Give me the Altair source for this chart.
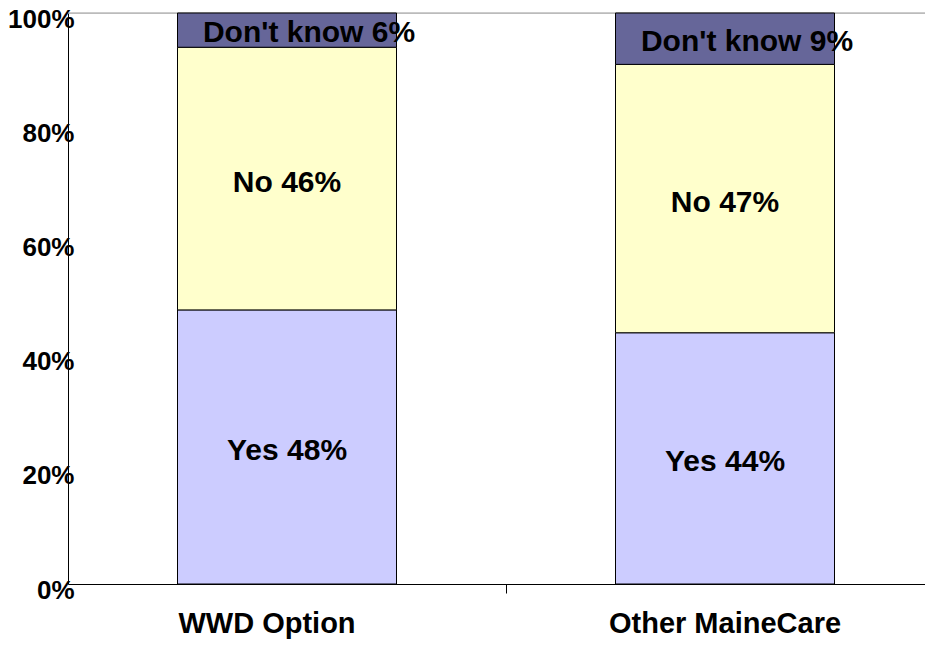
import altair as alt
import pandas as pd

groups = ["WWD Option", "Other MaineCare"]
responses = ["Yes", "No", "Don't know"]
wwd_values = [48, 46, 6]
other_values = [44, 47, 9]
colors = ["#CCCCFF", "#FFFFCC", "#666699"]
y_ticks = [0, 0.2, 0.4, 0.6, 0.8, 1.0]
top_line = [1.0]

rows = []
for g, vals in zip(groups, [wwd_values, other_values]):
    for i, (r, v) in enumerate(zip(responses, vals)):
        rows.append({"group": g, "response": r, "value": v / 100,
                     "order": i, "label": f"{r} {v}%"})
df = pd.DataFrame(rows)

FONT = "Arial"

x_enc = alt.X(
    "group:N", sort=groups,
    scale=alt.Scale(range=[0, 876], paddingInner=0.5, paddingOuter=0.25),
    axis=alt.Axis(title=None, labelAngle=0, labelFont=FONT, labelFontSize=29,
                  labelFontWeight="bold", labelColor="black", labelPadding=16,
                  labelOffset={"condition": {"test": f"datum.label == '{groups[0]}'",
                                             "value": -20}, "value": 0},
                  labelLimit=0, bandPosition=1.5, tickSize=9, tickColor="black",
                  domainColor="black", grid=False),
)
y_scale = alt.Scale(domain=[0, 1], nice=False)
y_axis = alt.Axis(title=None, values=y_ticks, format=".0%", labelFont=FONT,
                  labelFontSize=26, labelFontWeight="bold", labelColor="black",
                  ticks=False, tickSize=0, labelPadding=-6, labelOffset=6,
                  domainColor="black", grid=False)

base = alt.Chart(df).transform_stack(
    stack="value", groupby=["group"], as_=["y0", "y1"],
    sort=[alt.SortField("order", order="ascending")],
).transform_calculate(mid="(datum.y0 + datum.y1) / 2")

rule = alt.Chart(pd.DataFrame({"top": top_line})).mark_rule(
    color="#999999", strokeWidth=1
).encode(y=alt.Y("top:Q", scale=y_scale, axis=y_axis))

bars = base.mark_bar(stroke="black", strokeWidth=1).encode(
    x=x_enc,
    y=alt.Y("y0:Q", scale=y_scale, axis=y_axis),
    y2="y1:Q",
    color=alt.Color("response:N", sort=responses,
                    scale=alt.Scale(domain=responses, range=colors), legend=None),
)

text_main = base.transform_filter(
    alt.datum.response != "Don't know"
).mark_text(font=FONT, fontSize=30, fontWeight="bold", color="black", dy=4).encode(
    x=x_enc, y=alt.Y("mid:Q", scale=y_scale, axis=y_axis), text="label:N"
)

text_dk = base.transform_filter(
    alt.datum.response == "Don't know"
).mark_text(font=FONT, fontSize=30, fontWeight="bold", color="black", dy=3, dx=22).encode(
    x=x_enc, y=alt.Y("mid:Q", scale=y_scale, axis=y_axis), text="label:N"
)

chart = alt.layer(rule, bars, text_main, text_dk).properties(
    width=857, height=571,
    autosize=alt.AutoSizeParams(type="none"),
    padding={"left": 60, "top": 5, "right": 0, "bottom": 55},
).configure_view(stroke=None).configure(background="white")

chart.save("out.html", embed_options={"renderer": "svg", "actions": False})
